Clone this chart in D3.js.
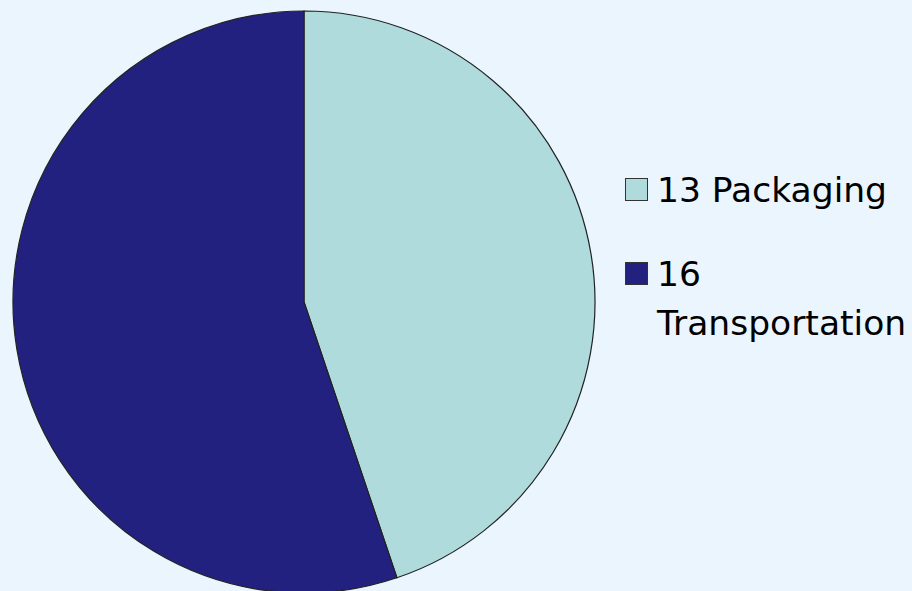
<!DOCTYPE html>
<html>
<head>
<meta charset="utf-8">
<script src="https://cdn.jsdelivr.net/npm/d3@7"></script>
<style>
  html, body { margin: 0; padding: 0; background: #ebf5fe; }
  svg { display: block; }
</style>
</head>
<body>
<div id="pieDiv"></div>
<script>
const categories = ["Packaging", "Transportation"];
const values = [13, 16];
const colors = ["#afdbdd", "#23217f"];

const W = 912, H = 591;
const cx = 304, cy = 302, radius = 291;

const svg = d3.select("#pieDiv").append("svg")
  .attr("width", W)
  .attr("height", H);

const data = categories.map((c, i) => ({ name: c, value: values[i], color: colors[i] }));

const pieFunc = d3.pie().value(d => d.value).sort(null);
const arcFunc = d3.arc().innerRadius(0).outerRadius(radius);

const pieG = svg.append("g").attr("transform", `translate(${cx},${cy})`);
pieG.selectAll("path")
  .data(pieFunc(data))
  .enter()
  .append("path")
  .attr("d", arcFunc)
  .attr("fill", d => d.data.color)
  .attr("stroke", "#222")
  .attr("stroke-width", 1.2);

// legend
const legX = 625, textX = 657, maxW = W - textX - 2;
const fontSize = 34.5, lineH = 49;
const legRows = [
  { y: 202 },
  { y: 286 }
];

const legG = svg.append("g").attr("class", "legend");
data.forEach((d, i) => {
  const row = legG.append("g");
  row.append("rect")
    .attr("x", legX + 0.5)
    .attr("y", legRows[i].y - 23.5)
    .attr("width", 22)
    .attr("height", 22)
    .attr("fill", d.color)
    .attr("stroke", "#333")
    .attr("stroke-width", 1);

  const txt = row.append("text")
    .attr("x", textX)
    .attr("y", legRows[i].y)
    .attr("font-family", "'DejaVu Sans', Verdana, sans-serif")
    .attr("font-size", fontSize)
    .attr("fill", "#000");

  // simple word wrap
  const words = (d.value + " " + d.name).split(" ");
  let line = [];
  let tspan = txt.append("tspan").attr("x", textX).attr("dy", 0);
  words.forEach(w => {
    line.push(w);
    tspan.text(line.join(" "));
    if (tspan.node().getComputedTextLength() > maxW && line.length > 1) {
      line.pop();
      tspan.text(line.join(" "));
      line = [w];
      tspan = txt.append("tspan").attr("x", textX).attr("dy", lineH).text(w);
    }
  });
});
</script>
</body>
</html>
